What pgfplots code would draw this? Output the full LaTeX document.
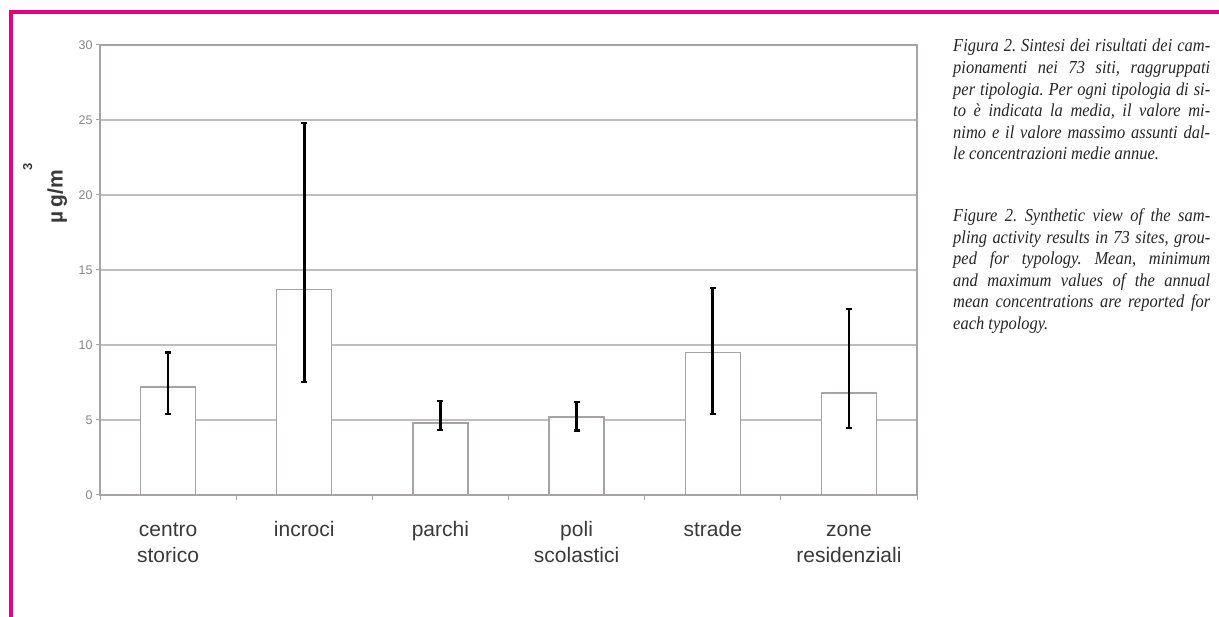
\documentclass[border=0pt]{standalone}
\usepackage{pgfplots}
\pgfplotsset{compat=1.18}
\usepackage{fontspec}
\setmainfont{Liberation Serif}
\newfontfamily\capfont{Liberation Serif}[FakeStretch=0.9]
\newfontfamily\arial{Liberation Sans}
\definecolor{mag}{HTML}{E5007E}
\definecolor{gridc}{HTML}{C2BCBC}
\definecolor{barc}{HTML}{A9A2A2}
\definecolor{tickc}{HTML}{8A8686}
\definecolor{labc}{HTML}{3A3A3A}
\newcommand{\jl}[1]{\makebox[257bp][s]{#1}\\}
\begin{document}
\begin{tikzpicture}[x=1bp,y=1bp]
\useasboundingbox (0,0) rectangle (1219,617);
\fill[white] (0,0) rectangle (1219,617);
\draw[mag, line width=4bp] (11,0) -- (11,605) -- (1219,605);
\begin{axis}[
  at={(100bp,122bp)}, anchor=south west,
  scale only axis, width=817bp, height=450bp,
  xmin=-0.5, xmax=5.5, ymin=0, ymax=30,
  ybar, bar width=55bp,
  xtick={0,1,2,3,4,5},
  xticklabels={{\strut centro\\storico}, {\strut incroci}, {\strut parchi}, {\strut poli\\scolastici}, {\strut strade}, {\strut zone\\residenziali}},
  xticklabel style={align=center, anchor=north, font=\arial\fontsize{21bp}{26bp}\selectfont, text=labc, yshift=-16bp},
  major x tick style={draw=none},
  minor xtick={-0.5,0.5,1.5,2.5,3.5,4.5,5.5},
  minor tick length=5bp,
  minor x tick style={draw=barc, line width=1bp},
  ytick={0,5,...,30},
  yticklabel style={font=\arial\fontsize{12.5bp}{14bp}\selectfont, text=tickc},
  major tick length=4bp,
  tick align=outside,
  y tick style={draw=barc, line width=1bp},
  ymajorgrids,
  grid style={draw=gridc, line width=1.8bp},
  axis line style={draw=barc, line width=1.3bp},
  xtick pos=bottom, ytick pos=left,
  /pgf/number format/assume math mode=true,
]
\addplot[fill=white, draw=barc, line width=1.3bp, bar shift=0bp,
  error bars/.cd, y dir=both, y explicit, error mark=-,
  error bar style={line width=2.8bp, black},
  error mark options={line width=2.2bp, mark size=3bp, black, rotate=90}]
  table[x=x, y=y, y error plus=ep, y error minus=em] {
x y ep em
0 7.2 2.3 1.8
1 13.7 11.1 6.15
2 4.8 1.45 0.47
3 5.2 1.0 0.9
4 9.5 4.3 4.1
5 6.8 5.6 2.35
};
\end{axis}
\node[rotate=90, font=\arial\bfseries\fontsize{21bp}{24bp}\selectfont, text=labc] at (45,424) {µ\,g/m\raisebox{1.45em}{\fontsize{13bp}{15bp}\selectfont 3}};
\node[anchor=north west, inner sep=0pt, text=black!85] at (953,578) {\parbox{257bp}{\frenchspacing\capfont\fontsize{18.3bp}{21.6bp}\selectfont\itshape
\jl{Figura 2. Sintesi dei risultati dei cam-}
\jl{pionamenti nei 73 siti, raggruppati}
\jl{per tipologia. Per ogni tipologia di si-}
\jl{to è indicata la media, il valore mi-}
\jl{nimo e il valore massimo assunti dal-}
le concentrazioni medie annue.\par\vspace{40bp}
\jl{Figure 2. Synthetic view of the sam-}
\jl{pling activity results in 73 sites, grou-}
\jl{ped for typology. Mean, minimum}
\jl{and maximum values of the annual}
\jl{mean concentrations are reported for}
each typology.\par}};
\end{tikzpicture}
\end{document}
